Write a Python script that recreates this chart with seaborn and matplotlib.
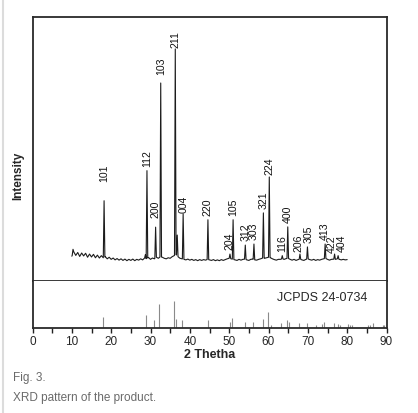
import numpy as np
import pandas as pd
import matplotlib
matplotlib.use("Agg")
import matplotlib.pyplot as plt
from matplotlib.ticker import MultipleLocator
import seaborn as sns

# ---------------- data ----------------
# background of the measured pattern, every 0.5 deg from 10 to 80 deg
bg_start, bg_step = 10.0, 0.5
bg_int = [
    94, 110, 97, 108, 93, 106, 95, 105, 90, 102, 91, 101, 88, 98, 87, 96,
    88, 92, 84, 90, 82, 87, 80, 85, 79, 84, 78, 83, 77, 82, 78, 83,
    77, 82, 79, 84, 80, 87, 84, 89, 82, 87, 84, 90, 86, 92, 90, 86,
    84, 88, 86, 92, 96, 100, 92, 86, 84, 82, 80, 83, 79, 82, 78, 81,
    77, 81, 78, 81, 79, 82, 80, 78, 81, 77, 80, 77, 81, 78, 81, 84,
    86, 84, 82, 80, 78, 82, 79, 82, 83, 80, 78, 82, 83, 80, 79, 82,
    84, 87, 86, 88, 90, 88, 84, 81, 79, 82, 82, 84, 82, 85, 86, 82,
    79, 82, 78, 81, 83, 80, 78, 82, 84, 81, 79, 82, 78, 81, 79, 82,
    84, 86, 82, 79, 82, 83, 82, 84, 82, 80, 82, 80, 81,
]

# labelled reflections (hkl, 2theta, intensity)
peak_hkl = ["101", "112", "200", "103", "211", "004", "220", "204", "105", "312",
            "303", "321", "224", "116", "400", "206", "305", "413", "422", "404"]
peak_pos = [18.2, 29.1, 31.3, 32.6, 36.3, 38.3, 44.6, 50.2, 51.0, 54.1,
            56.3, 58.7, 60.2, 63.5, 64.9, 68.0, 69.9, 74.4, 76.8, 77.7]
peak_int = [304, 418, 204, 750, 879, 254, 232, 102, 232, 136,
            140, 258, 394, 96, 205, 102, 129, 140, 102, 96]

# small unlabelled features
minor_pos = [10.3, 28.7, 36.8]
minor_int = [120, 100, 174]

# JCPDS 24-0734 reference sticks
ref_pos = [18.05, 28.9, 31.0, 32.2, 36.1, 36.4, 37.9, 44.6, 50.1, 50.7,
           54.1, 56.0, 58.6, 59.8, 60.7, 63.2, 64.7, 65.3, 67.8, 69.9,
           72.2, 73.5, 74.2, 76.7, 77.7, 78.1, 80.3, 80.7, 81.3, 85.2,
           85.8, 86.6, 89.0, 89.4]
ref_int = [23, 28, 17, 51, 58, 19, 18, 18, 12, 21,
           12, 12, 19, 33, 6, 10, 18, 12, 10, 11,
           6, 9, 12, 11, 9, 6, 9, 6, 6, 6,
           6, 11, 6, 6]

x_ticks = [0, 10, 20, 30, 40, 50, 60, 70, 80, 90]

# ---------------- build the line ----------------
bg_theta = bg_start + bg_step * np.arange(len(bg_int))
bg_arr = np.array(bg_int, dtype=float)
all_pos = np.array(peak_pos + minor_pos)
all_int = np.array(peak_int + minor_int, dtype=float)
half_w = 0.2
keep = np.array([np.all(np.abs(all_pos - t) > half_w) for t in bg_theta])
xs = list(bg_theta[keep])
ys = list(bg_arr[keep])
for p, h in zip(all_pos, all_int):
    for dx in (-half_w, half_w):
        xs.append(p + dx)
        ys.append(np.interp(p + dx, bg_theta, bg_arr))
    xs.append(p)
    ys.append(h)
order = np.argsort(xs)
df = pd.DataFrame({"two_theta": np.array(xs)[order], "intensity": np.array(ys)[order]})

# ---------------- figure ----------------
sns.set_style("white")
plt.rcParams["font.family"] = ["Liberation Sans", "DejaVu Sans"]

W, H = 418, 414
fig = plt.figure(figsize=(W / 100, H / 100), dpi=100)
left, right = 32.5 / W, 386.5 / W
ax1 = fig.add_axes([left, 1 - 282 / H, right - left, 264 / H])
ax2 = fig.add_axes([left, 1 - 329 / H, right - left, 47 / H], sharex=ax1)

sns.lineplot(data=df, x="two_theta", y="intensity", ax=ax1, color="#1c1c1c",
             lw=0.8, estimator=None, sort=False)
ax1.set_xlim(0, 90)
ax1.set_ylim(0, 1000)
ax1.set(xlabel="", ylabel="")
ax1.tick_params(left=False, bottom=False, labelleft=False, labelbottom=False)

px_to_data = 1000 / 264
label_gap_px = {"101": 20, "200": 10, "103": 9, "211": 2, "004": 2, "224": 3,
                "206": 3, "422": 2}
label_dx = {"206": -0.25, "305": 0.25, "422": -0.6, "404": 0.9}
for name, p, h in zip(peak_hkl, peak_pos, peak_int):
    gap = label_gap_px.get(name, 5) * px_to_data
    ax1.text(p + label_dx.get(name, 0.0), h + gap, name, rotation=90,
             ha="center", va="bottom", fontsize=7.6, color="#111111")

ax2.vlines(ref_pos, 0, ref_int, color="#8a8a8a", lw=0.8)
ax2.set_ylim(0, 100)
ax2.set_yticks([])
ax2.set_xticks(x_ticks)
ax2.xaxis.set_minor_locator(MultipleLocator(5))
ax2.tick_params(axis="x", which="both", bottom=True, direction="out",
                length=3.5, width=1.0, color="#222222", labelsize=8.5, pad=1.5)
ax2.set_xlabel("2 Thetha", fontweight="bold", fontsize=9, labelpad=0.5)
ax2.text(62.2, 66, "JCPDS 24-0734", fontsize=9, ha="left", va="center")

for ax in (ax1, ax2):
    for sp in ax.spines.values():
        sp.set_color("#2a2a2a")
        sp.set_linewidth(1.3)
        sp.set_visible(True)
ax2.spines["top"].set_visible(False)

fig.text(18 / W, 1 - 176 / H, "Intensity", rotation=90, ha="center", va="center",
         fontweight="bold", fontsize=8.5)

fig.text(13 / W, 1 - 378 / H, "Fig. 3.", ha="left", va="center",
         fontsize=8.5, color="#6a6a6a")
fig.text(13 / W, 1 - 398 / H, "XRD pattern of the product.", ha="left",
         va="center", fontsize=8.5, color="#6a6a6a")

fig.add_artist(plt.Line2D([3 / W, 3 / W], [0, 1], transform=fig.transFigure,
                          color="#dcdcdc", lw=1.5))

fig.savefig("out.png", dpi=100)
